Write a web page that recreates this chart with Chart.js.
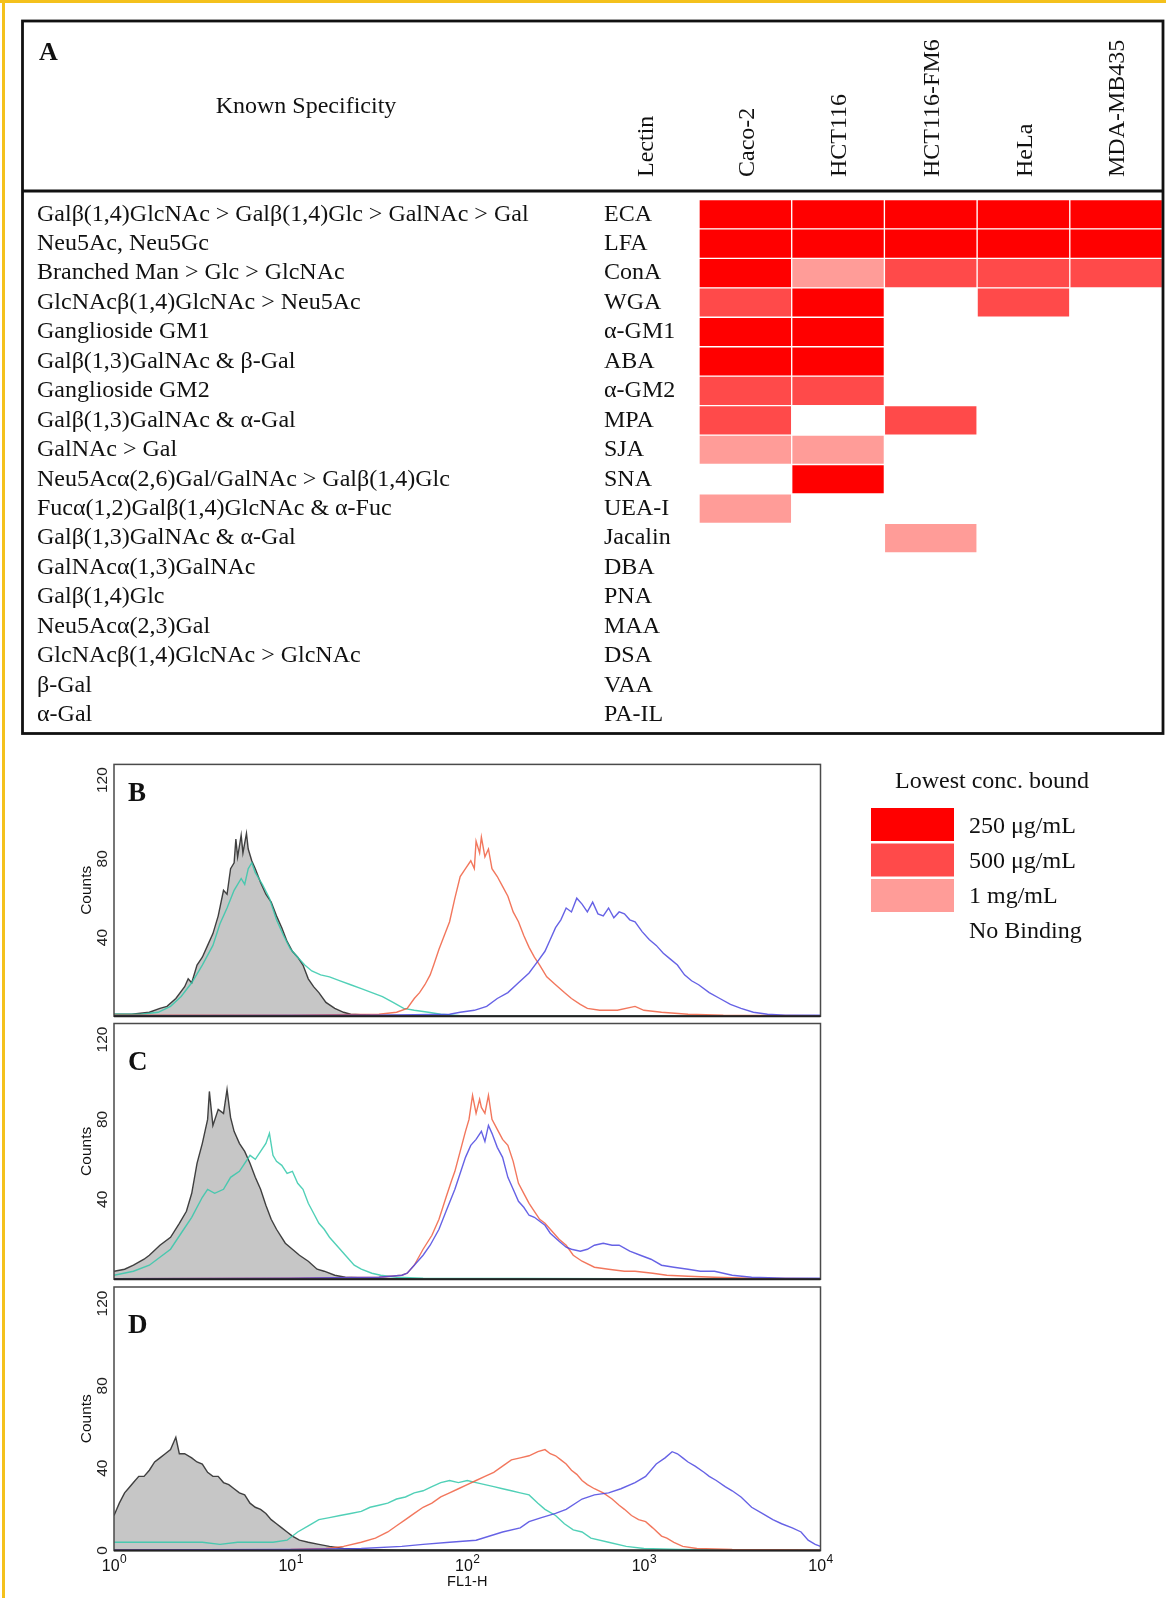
<!DOCTYPE html>
<html>
<head>
<meta charset="utf-8">
<script src="https://cdn.jsdelivr.net/npm/chart.js@4.4.1/dist/chart.umd.min.js"></script>
<style>
  body { margin: 0; background: #fff; width: 1166px; height: 1598px; position: relative; overflow: hidden; }
  canvas { position: absolute; left: 0; }
  #frame-top { position: absolute; left: 0; top: 0; width: 1166px; height: 3px; background: #f4c11c; }
  #frame-left { position: absolute; left: 2px; top: 0; width: 3px; height: 1598px; background: #f4c11c; }
</style>
</head>
<body>
<div id="frame-top"></div>
<div id="frame-left"></div>
<canvas id="table-chart" width="1166" height="745" style="top:0"></canvas>
<canvas id="hist-b" width="1166" height="284" style="top:740px"></canvas>
<canvas id="hist-c" width="1166" height="277" style="top:1010px"></canvas>
<canvas id="hist-d" width="1166" height="328" style="top:1270px"></canvas>
<script>
// ---- panel A data ----
const cellLines = ["Caco-2", "HCT116", "HCT116-FM6", "HeLa", "MDA-MB435"];
const lectins = ["ECA", "LFA", "ConA", "WGA", "α-GM1", "ABA", "α-GM2", "MPA", "SJA", "SNA",
  "UEA-I", "Jacalin", "DBA", "PNA", "MAA", "DSA", "VAA", "PA-IL"];
const specificities = [
  "Galβ(1,4)GlcNAc > Galβ(1,4)Glc > GalNAc > Gal",
  "Neu5Ac, Neu5Gc",
  "Branched Man > Glc > GlcNAc",
  "GlcNAcβ(1,4)GlcNAc > Neu5Ac",
  "Ganglioside GM1",
  "Galβ(1,3)GalNAc & β-Gal",
  "Ganglioside GM2",
  "Galβ(1,3)GalNAc & α-Gal",
  "GalNAc > Gal",
  "Neu5Acα(2,6)Gal/GalNAc > Galβ(1,4)Glc",
  "Fucα(1,2)Galβ(1,4)GlcNAc & α-Fuc",
  "Galβ(1,3)GalNAc & α-Gal",
  "GalNAcα(1,3)GalNAc",
  "Galβ(1,4)Glc",
  "Neu5Acα(2,3)Gal",
  "GlcNAcβ(1,4)GlcNAc > GlcNAc",
  "β-Gal",
  "α-Gal"
];
// lowest conc. bound: 0 no binding, 1 = 250 µg/mL, 2 = 500 µg/mL, 3 = 1 mg/mL
const bindCaco2 = [1, 1, 1, 2, 1, 1, 2, 2, 3, 0, 3, 0, 0, 0, 0, 0, 0, 0];
const bindHCT116 = [1, 1, 3, 1, 1, 1, 2, 0, 3, 1, 0, 0, 0, 0, 0, 0, 0, 0];
const bindHCT116FM6 = [1, 1, 2, 0, 0, 0, 0, 2, 0, 0, 0, 3, 0, 0, 0, 0, 0, 0];
const bindHeLa = [1, 1, 2, 2, 0, 0, 0, 0, 0, 0, 0, 0, 0, 0, 0, 0, 0, 0];
const bindMDA = [1, 1, 2, 0, 0, 0, 0, 0, 0, 0, 0, 0, 0, 0, 0, 0, 0, 0];
const levelLabels = ["No Binding", "250 μg/mL", "500 μg/mL", "1 mg/mL"];
const levelColors = ["rgba(0,0,0,0)", "#ff0000", "#ff4a4a", "#ff9c98"];

// ---- panels B-D: [log10(FL1-H), counts] ----
const bControl = [[0,1],[0.10,1],[0.20,2],[0.26,4],[0.30,5],[0.35,9],[0.40,15],[0.42,19],[0.44,17],[0.47,26],[0.50,30],[0.53,36],[0.56,42],[0.59,51],[0.62,64],[0.64,62],[0.66,75],[0.68,78],[0.69,90],[0.70,81],[0.72,92],[0.73,83],[0.75,93],[0.76,85],[0.78,79],[0.80,75],[0.83,68],[0.86,62],[0.89,58],[0.92,51],[0.95,45],[0.98,38],[1.01,33],[1.04,30],[1.07,26],[1.10,19],[1.13,15],[1.16,12],[1.20,7],[1.25,4],[1.30,2],[1.34,1],[1.45,0.5],[2.0,0],[4.0,0]];
const bTeal = [[0,1],[0.15,1],[0.25,2],[0.32,5],[0.38,10],[0.44,17],[0.50,26],[0.56,36],[0.60,47],[0.64,55],[0.68,64],[0.72,70],[0.74,67],[0.76,75],[0.78,78],[0.80,73],[0.84,67],[0.88,60],[0.92,49],[0.96,41],[1.00,34],[1.04,30],[1.08,26],[1.12,23],[1.17,21],[1.22,20],[1.28,18],[1.34,16],[1.40,14],[1.46,12],[1.52,10],[1.58,7],[1.64,4],[1.70,3],[1.78,2],[1.85,1],[2.0,0],[4.0,0]];
const bOrange = [[0,0.5],[1.0,0.5],[1.5,1],[1.6,2],[1.66,4],[1.70,9],[1.73,12],[1.76,16],[1.79,21],[1.81,26],[1.84,34],[1.87,41],[1.90,48],[1.93,60],[1.96,71],[1.99,75],[2.02,79],[2.04,75],[2.05,89],[2.07,83],[2.08,91],[2.10,81],[2.12,85],[2.14,75],[2.17,71],[2.20,66],[2.23,61],[2.26,53],[2.29,48],[2.32,41],[2.35,35],[2.38,30],[2.41,26],[2.45,20],[2.50,16],[2.55,12],[2.59,9],[2.64,6],[2.68,4],[2.75,3],[2.85,3],[2.95,5],[3.0,3],[3.1,2],[3.25,1],[3.45,0.5],[4,0.3]];
const bBlue = [[0,0.3],[1.5,0.5],[1.9,1],[1.96,2],[2.04,3],[2.11,5],[2.17,9],[2.23,12],[2.29,17],[2.35,22],[2.40,28],[2.44,33],[2.47,39],[2.50,45],[2.53,49],[2.56,55],[2.59,53],[2.62,60],[2.65,57],[2.68,53],[2.71,58],[2.74,52],[2.77,51],[2.80,55],[2.83,50],[2.86,53],[2.89,52],[2.92,49],[2.95,48],[2.99,43],[3.03,39],[3.07,36],[3.11,32],[3.15,29],[3.19,26],[3.23,21],[3.27,18],[3.31,16],[3.37,12],[3.43,9],[3.49,6],[3.55,4],[3.62,2],[3.70,1],[3.8,0.5],[4,0.5]];

const cControl = [[0,4],[0.06,5],[0.11,7],[0.17,10],[0.20,12],[0.26,17],[0.32,21],[0.37,28],[0.41,34],[0.44,43],[0.47,58],[0.50,68],[0.53,80],[0.54,94],[0.56,77],[0.59,85],[0.62,83],[0.64,95],[0.66,81],[0.68,74],[0.71,68],[0.74,64],[0.77,58],[0.80,51],[0.83,45],[0.86,37],[0.89,30],[0.92,25],[0.97,18],[1.01,15],[1.05,12],[1.10,9],[1.15,5],[1.19,4],[1.25,2],[1.31,1],[1.45,0.5],[1.6,0.3],[4,0]];
const cTeal = [[0,2],[0.11,4],[0.20,7],[0.26,11],[0.32,15],[0.38,23],[0.44,31],[0.50,41],[0.53,45],[0.57,43],[0.62,45],[0.66,51],[0.71,54],[0.74,58],[0.77,62],[0.80,60],[0.83,64],[0.86,68],[0.88,73],[0.90,62],[0.92,59],[0.95,57],[0.98,53],[1.01,54],[1.04,48],[1.07,45],[1.10,38],[1.13,33],[1.16,28],[1.19,25],[1.22,21],[1.27,16],[1.31,12],[1.36,7],[1.40,5],[1.46,3],[1.51,2],[1.6,1],[1.75,0.5],[4,0]];
const cOrange = [[0,0.3],[1.0,0.5],[1.5,1],[1.63,2],[1.66,3],[1.70,7],[1.75,15],[1.80,22],[1.84,30],[1.88,41],[1.91,49],[1.93,54],[1.96,64],[1.99,74],[2.01,80],[2.03,92],[2.05,83],[2.07,90],[2.08,86],[2.10,83],[2.12,92],[2.14,80],[2.17,75],[2.20,70],[2.23,67],[2.26,59],[2.29,48],[2.32,43],[2.35,38],[2.38,34],[2.41,30],[2.44,28],[2.47,25],[2.52,20],[2.56,17],[2.60,12],[2.65,9],[2.72,6],[2.80,5],[2.89,4],[2.95,4],[3.05,3],[3.13,2],[3.25,1.5],[3.40,1],[3.6,0.5],[4,0.3]];
const cBlue = [[0,0.3],[1.0,0.5],[1.5,1],[1.63,2],[1.66,3],[1.70,7],[1.75,12],[1.79,17],[1.84,25],[1.88,34],[1.93,45],[1.96,53],[1.99,61],[2.02,67],[2.05,70],[2.08,74],[2.10,69],[2.12,77],[2.14,73],[2.17,66],[2.20,61],[2.23,51],[2.26,45],[2.29,39],[2.32,36],[2.35,32],[2.38,31],[2.41,29],[2.44,27],[2.47,23],[2.52,19],[2.56,16],[2.59,15],[2.64,14],[2.68,15],[2.72,17],[2.77,18],[2.82,17],[2.86,17],[2.92,14],[2.98,12],[3.04,10],[3.10,7],[3.17,6],[3.25,5],[3.32,4],[3.40,4],[3.50,2],[3.61,1],[3.8,0.5],[4,0.5]];

const dControl = [[0,17],[0.03,23],[0.06,28],[0.08,30],[0.11,33],[0.14,36],[0.17,36],[0.20,39],[0.23,43],[0.26,45],[0.29,47],[0.32,49],[0.35,55],[0.37,47],[0.40,47],[0.44,45],[0.47,43],[0.50,42],[0.53,38],[0.56,36],[0.59,36],[0.62,33],[0.65,32],[0.68,30],[0.71,28],[0.74,27],[0.77,23],[0.80,21],[0.83,20],[0.86,18],[0.89,15],[0.92,13],[0.95,11],[0.98,9],[1.01,7],[1.05,5],[1.10,4],[1.16,3],[1.22,2],[1.30,1],[1.40,0.5],[1.6,0.3],[4,0]];
const dTeal = [[0,4],[0.1,4],[0.2,4],[0.3,4],[0.4,4],[0.5,4],[0.6,3],[0.7,4],[0.8,4],[0.9,4],[0.98,5],[1.04,9],[1.10,12],[1.16,15],[1.22,16],[1.28,17],[1.34,18],[1.40,19],[1.45,21],[1.50,22],[1.55,23],[1.60,25],[1.65,26],[1.70,28],[1.75,29],[1.80,31],[1.85,33],[1.90,34],[1.95,33],[2.00,34],[2.05,33],[2.10,32],[2.15,31],[2.20,30],[2.25,29],[2.30,28],[2.35,27],[2.40,23],[2.44,20],[2.50,17],[2.55,13],[2.60,10],[2.65,9],[2.70,6],[2.80,4],[2.90,2],[3.0,1],[3.2,0.5],[3.5,0.3],[4,0.3]];
const dOrange = [[0,0.3],[1.0,0.5],[1.2,1],[1.30,2],[1.40,4],[1.48,6],[1.55,9],[1.60,12],[1.65,15],[1.70,18],[1.75,21],[1.80,23],[1.85,26],[1.90,28],[1.95,30],[2.00,32],[2.05,34],[2.10,36],[2.15,38],[2.20,41],[2.25,44],[2.30,45],[2.35,46],[2.40,48],[2.44,49],[2.47,47],[2.50,46],[2.53,44],[2.56,42],[2.59,39],[2.62,37],[2.65,34],[2.68,32],[2.72,30],[2.77,28],[2.82,25],[2.86,22],[2.89,20],[2.93,17],[2.97,15],[3.01,14],[3.05,11],[3.10,7],[3.13,6],[3.17,4],[3.22,2],[3.30,1],[3.5,0.5],[4,0.3]];
const dBlue = [[0,0.3],[1.0,0.5],[1.40,1],[1.63,2],[1.75,3],[1.90,4],[2.05,5],[2.20,9],[2.30,11],[2.35,14],[2.42,16],[2.50,18],[2.56,20],[2.65,25],[2.72,27],[2.80,28],[2.87,30],[2.95,33],[3.01,36],[3.07,42],[3.12,45],[3.16,48],[3.19,47],[3.22,45],[3.25,43],[3.29,41],[3.34,38],[3.37,36],[3.41,34],[3.46,31],[3.50,29],[3.55,26],[3.61,21],[3.67,18],[3.73,15],[3.78,13],[3.84,11],[3.89,9],[3.93,5],[3.97,3],[4.0,2]];

const decadeExponents = ["0", "1", "2", "3", "4"];
const countTicksUpper = [40, 80, 120];
const countTicksAll = [0, 40, 80, 120];
const countMax = 128;

const SERIF = '"Liberation Serif", "Times New Roman", serif';
const SANS = '"Liberation Sans", Arial, sans-serif';

// table frame, headers and row texts
const tablePlugin = {
  id: "tableText",
  afterDraw(chart) {
    const ctx = chart.ctx;
    const xs = chart.scales.x;
    const ys = chart.scales.y;
    const area = chart.chartArea;
    ctx.save();
    ctx.strokeStyle = "#111";
    ctx.lineWidth = 2.8;
    ctx.strokeRect(22.5, 21, area.right - 22, area.bottom + 4 - 21);
    ctx.beginPath();
    ctx.moveTo(22.5, 191);
    ctx.lineTo(area.right + 0.5, 191);
    ctx.stroke();

    ctx.fillStyle = "#111";
    ctx.font = "bold 26px " + SERIF;
    ctx.textBaseline = "alphabetic";
    ctx.textAlign = "left";
    ctx.fillText("A", 39, 60);

    ctx.font = "24px " + SERIF;
    ctx.textAlign = "center";
    ctx.textBaseline = "middle";
    ctx.fillText("Known Specificity", 306, 107);

    // rotated column headers
    ctx.textAlign = "left";
    const heads = [["Lectin", 647]].concat(cellLines.map((n, i) => [n, xs.getPixelForValue(i + 0.5) + 2]));
    heads.forEach(h => {
      ctx.save();
      ctx.translate(h[1], 177);
      ctx.rotate(-Math.PI / 2);
      ctx.fillText(h[0], 0, 0);
      ctx.restore();
    });

    lectins.forEach((name, i) => {
      const y = ys.getPixelForValue(i);
      ctx.fillText(specificities[i], 37, y);
      ctx.fillText(name, 604, y);
    });
    ctx.restore();
  }
};

// Panel A heat map
const bindingByLine = [bindCaco2, bindHCT116, bindHCT116FM6, bindHeLa, bindMDA];
new Chart(document.querySelector("#table-chart").getContext("2d"), {
  type: "bar",
  data: {
    labels: lectins,
    datasets: bindingByLine.map((levels, c) => ({
      label: cellLines[c],
      data: levels.map(l => (l > 0 ? [c, c + 1] : null)),
      backgroundColor: levels.map(l => levelColors[l]),
      borderColor: "rgba(255,255,255,0.55)",
      borderWidth: 1,
      borderSkipped: false,
      grouped: false,
      barPercentage: 1,
      categoryPercentage: 1
    }))
  },
  options: {
    indexAxis: "y",
    responsive: false,
    animation: false,
    layout: { padding: { left: 699, right: 3.5, top: 199.5, bottom: 15.5 } },
    scales: {
      x: { type: "linear", min: 0, max: 5, display: false },
      y: { display: false }
    },
    plugins: { legend: { display: false }, tooltip: { enabled: false } }
  },
  plugins: [tablePlugin]
});

// box, panel letter and decade labels for the histograms
const panelPlugin = {
  id: "panelBox",
  afterDraw(chart, args, opts) {
    const ctx = chart.ctx;
    const a = chart.chartArea;
    ctx.save();
    ctx.strokeStyle = "#4a4a4a";
    ctx.lineWidth = 1.5;
    ctx.strokeRect(a.left, a.top, a.right - a.left, a.bottom - a.top);
    ctx.strokeStyle = "#222";
    ctx.lineWidth = 2;
    ctx.beginPath();
    ctx.moveTo(a.left, a.bottom);
    ctx.lineTo(a.right, a.bottom);
    ctx.stroke();
    ctx.fillStyle = "#111";
    ctx.font = "bold 27px " + SERIF;
    ctx.textAlign = "left";
    ctx.textBaseline = "alphabetic";
    ctx.fillText(opts.letter, a.left + 14, a.top + opts.dy);

    if (opts.decades) {
      const xs = chart.scales.x;
      decadeExponents.forEach((e, i) => {
        const px = xs.getPixelForValue(i);
        ctx.font = "16px " + SANS;
        const w10 = ctx.measureText("10").width;
        ctx.font = "12px " + SANS;
        const we = ctx.measureText(e).width;
        const left = px - (w10 + we) / 2;
        ctx.font = "16px " + SANS;
        ctx.fillText("10", left, a.bottom + 20);
        ctx.font = "12px " + SANS;
        ctx.fillText(e, left + w10 + 0.5, a.bottom + 12);
      });
    }
    ctx.restore();
  }
};

// concentration key, drawn on panel B canvas
const keyPlugin = {
  id: "concKey",
  afterDraw(chart) {
    const ctx = chart.ctx;
    ctx.save();
    ctx.fillStyle = "#111";
    ctx.font = "24px " + SERIF;
    ctx.textBaseline = "middle";
    ctx.textAlign = "center";
    ctx.fillText("Lowest conc. bound", 992, 42);
    ctx.textAlign = "left";
    for (let i = 1; i < levelColors.length; i++) {
      const top = 68 + (i - 1) * 35.5;
      ctx.fillStyle = levelColors[i];
      ctx.fillRect(871, top, 83, 33);
    }
    ctx.fillStyle = "#111";
    [1, 2, 3, 0].forEach((lvl, k) => {
      ctx.fillText(levelLabels[lvl], 969, 87 + k * 35);
    });
    ctx.restore();
  }
};

const traceStyles = [
  { fill: "origin", backgroundColor: "#c6c6c6", borderColor: "rgba(35,35,35,0.85)", order: 4 },
  { fill: false, borderColor: "rgba(50,200,170,0.85)", order: 3 },
  { fill: false, borderColor: "rgba(240,95,65,0.85)", order: 2 },
  { fill: false, borderColor: "rgba(75,70,225,0.85)", order: 1 }
];

function histChart(selector, traces, letter, dy, padTop, showX, yTicks, extraPlugins) {
  return new Chart(document.querySelector(selector).getContext("2d"), {
    type: "line",
    data: {
      datasets: traces.map((t, i) => Object.assign({
        data: t.map(p => ({ x: p[0], y: p[1] })),
        borderWidth: 1.4,
        pointRadius: 0,
        tension: 0
      }, traceStyles[i]))
    },
    options: {
      responsive: false,
      animation: false,
      layout: { padding: { left: 74, right: 345.5, top: padTop, bottom: showX ? 2.5 : 0 } },
      scales: {
        x: {
          type: "linear", min: 0, max: 4, display: showX,
          border: { display: false },
          grid: { display: false, drawTicks: false },
          ticks: { display: false, stepSize: 1 },
          title: { display: true, text: "FL1-H", color: "#111", font: { family: SANS, size: 14.5 }, padding: { top: 0, bottom: 5 } },
          afterFit: s => { if (showX) s.height = 45; }
        },
        y: {
          min: 0, max: countMax,
          border: { display: false },
          grid: { display: false, drawTicks: false },
          afterBuildTicks: s => { s.ticks = yTicks.map(v => ({ value: v })); },
          ticks: {
            minRotation: 90, maxRotation: 90, crossAlign: "center", padding: -1.5, color: "#222",
            font: { family: SANS, size: 15.5 }
          },
          title: { display: true, text: "Counts", color: "#111", font: { family: SANS, size: 15.5 }, padding: { top: 3, bottom: 0 } },
          afterFit: s => { s.width = 40; }
        }
      },
      plugins: {
        legend: { display: false },
        tooltip: { enabled: false },
        panelBox: { letter: letter, dy: dy, decades: showX }
      }
    },
    plugins: [panelPlugin].concat(extraPlugins || [])
  });
}

histChart("#hist-b", [bControl, bTeal, bOrange, bBlue], "B", 37, 24.4, false, countTicksUpper, [keyPlugin]);
histChart("#hist-c", [cControl, cTeal, cOrange, cBlue], "C", 46.5, 13.5, false, countTicksUpper);
histChart("#hist-d", [dControl, dTeal, dOrange, dBlue], "D", 46, 17, true, countTicksAll);
</script>
</body>
</html>
